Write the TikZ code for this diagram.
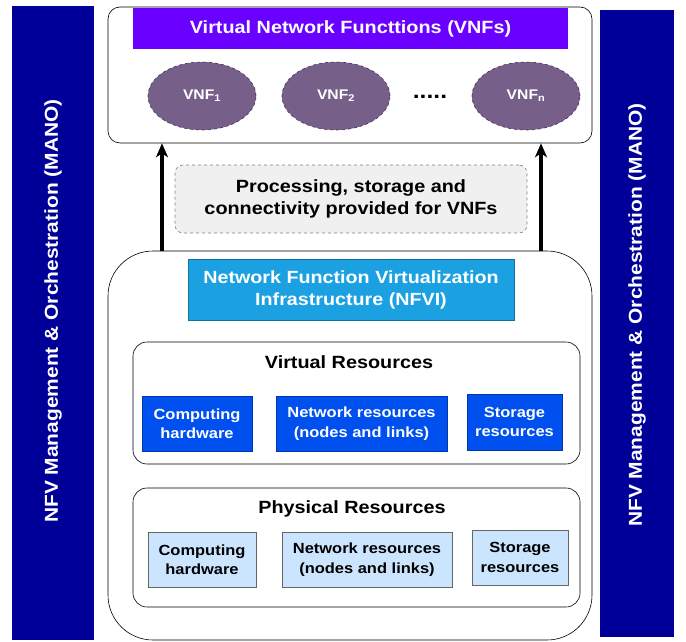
\documentclass[tikz,border=0pt]{standalone}
\usepackage{fontspec}
\setmainfont{Liberation Sans}[FakeStretch=1.12]
\usepackage{tikz}
\usetikzlibrary{shapes.geometric,arrows.meta}

\definecolor{manoblue}{HTML}{000099}
\definecolor{vnfviolet}{HTML}{6A00FF}
\definecolor{vnfgray}{HTML}{76608A}
\definecolor{vnfedge}{HTML}{432D57}
\definecolor{nfviblue}{HTML}{1BA1E2}
\definecolor{virtblue}{HTML}{0050EF}
\definecolor{physblue}{HTML}{CCE5FF}

\begin{document}
\begin{tikzpicture}[x=1pt,y=-1pt,semithick,align=center,
    txt/.style 2 args={font=\fontsize{#1}{#2}\selectfont\bfseries},
    mano/.style={fill=manoblue,inner sep=0pt},
    manotext/.style={text=white,rotate=90,txt={18.7}{22},inner sep=0pt},
    frame/.style={draw,rounded corners=#1,inner sep=0pt},
    vnf/.style={ellipse,draw=vnfedge,dashed,fill=vnfgray,text=white,txt={14}{16},
        minimum width=108pt,minimum height=68pt,inner sep=0pt},
    virt/.style={draw=virtblue!70!black,fill=virtblue,text=white,txt={14.7}{19.5},inner sep=0pt},
    phys/.style={draw=gray!80!black,fill=physblue,txt={14.7}{19.5},inner sep=0pt},
    flow/.style={-{Stealth[length=14pt,width=12pt,inset=4pt]},line width=3.5pt}]
        \useasboundingbox (0,0) rectangle (686,642);

        % management & orchestration bars
        \node[mano,minimum width=82pt,minimum height=634pt] (manoL) at (53,323) {};
        \node[manotext] (manoLtext) at (53,311) {NFV Management \& Orchestration (MANO)};
        \node[mano,minimum width=74pt,minimum height=627pt] (manoR) at (637,323.5) {};
        \node[manotext] (manoRtext) at (637,315) {NFV Management \& Orchestration (MANO)};

        % VNF layer
        \node[frame=12pt,minimum width=484pt,minimum height=136pt] (vnfbox) at (350,75) {};
        \node[fill=vnfviolet,text=white,txt={17.7}{20},minimum width=435pt,minimum height=41pt,inner sep=0pt] (vnftitle) at (350.5,28.5) {Virtual Network Functtions (VNFs)};
        \node[vnf] (vnf1) at (202,96) {VNF\textsubscript{1}};
        \node[vnf] (vnf2) at (336,96) {VNF\textsubscript{2}};
        \node[txt={22}{24},anchor=base] (dots) at (430,99) {.....};
        \node[vnf] (vnfn) at (526,96) {VNF\textsubscript{n}};

        \node[frame=8pt,draw=gray,dashed,fill=gray!12,txt={17.7}{22},minimum width=352pt,minimum height=68pt] (prov) at (351,199) {Processing, storage and\\connectivity provided for VNFs};

        % NFVI
        \node[frame=45pt,minimum width=484pt,minimum height=389pt] (nfvi) at (350,445.5) {};
        \node[draw=nfviblue!70!black,fill=nfviblue,text=white,txt={17.6}{22},minimum width=326pt,minimum height=61pt,inner sep=0pt] (nfvititle) at (351,289.5) {Network Function Virtualization\\Infrastructure (NFVI)};

        \node[frame=14pt,minimum width=447pt,minimum height=122pt] (vres) at (356.5,403) {};
        \node[txt={17.7}{20}] (vrestitle) at (349,362) {Virtual Resources};
        \node[virt,minimum width=110pt,minimum height=55pt] (vcomp) at (197,423.5) {Computing\\hardware};
        \node[virt,minimum width=171pt,minimum height=55pt] (vnet) at (361.5,423.5) {Network resources\\(nodes and links)};
        \node[virt,minimum width=95pt,minimum height=56pt] (vstor) at (514.5,422) {Storage\\resources};

        \node[frame=14pt,minimum width=447pt,minimum height=119pt] (pres) at (356.5,547.5) {};
        \node[txt={17.7}{20}] (prestitle) at (352,509) {Physical Resources};
        \node[phys,minimum width=108pt,minimum height=55pt] (pcomp) at (202,559.5) {Computing\\hardware};
        \node[phys,minimum width=170pt,minimum height=55pt] (pnet) at (367,559.5) {Network resources\\(nodes and links)};
        \node[phys,minimum width=96pt,minimum height=55pt] (pstor) at (520,557.5) {Storage\\resources};

        % NFVI serves the VNFs
        \draw[flow] (nfvi.north -| 162,0) -- (vnfbox.south -| 162,0);
        \draw[flow] (nfvi.north -| 541,0) -- (vnfbox.south -| 541,0);
    \end{tikzpicture}
\end{document}
